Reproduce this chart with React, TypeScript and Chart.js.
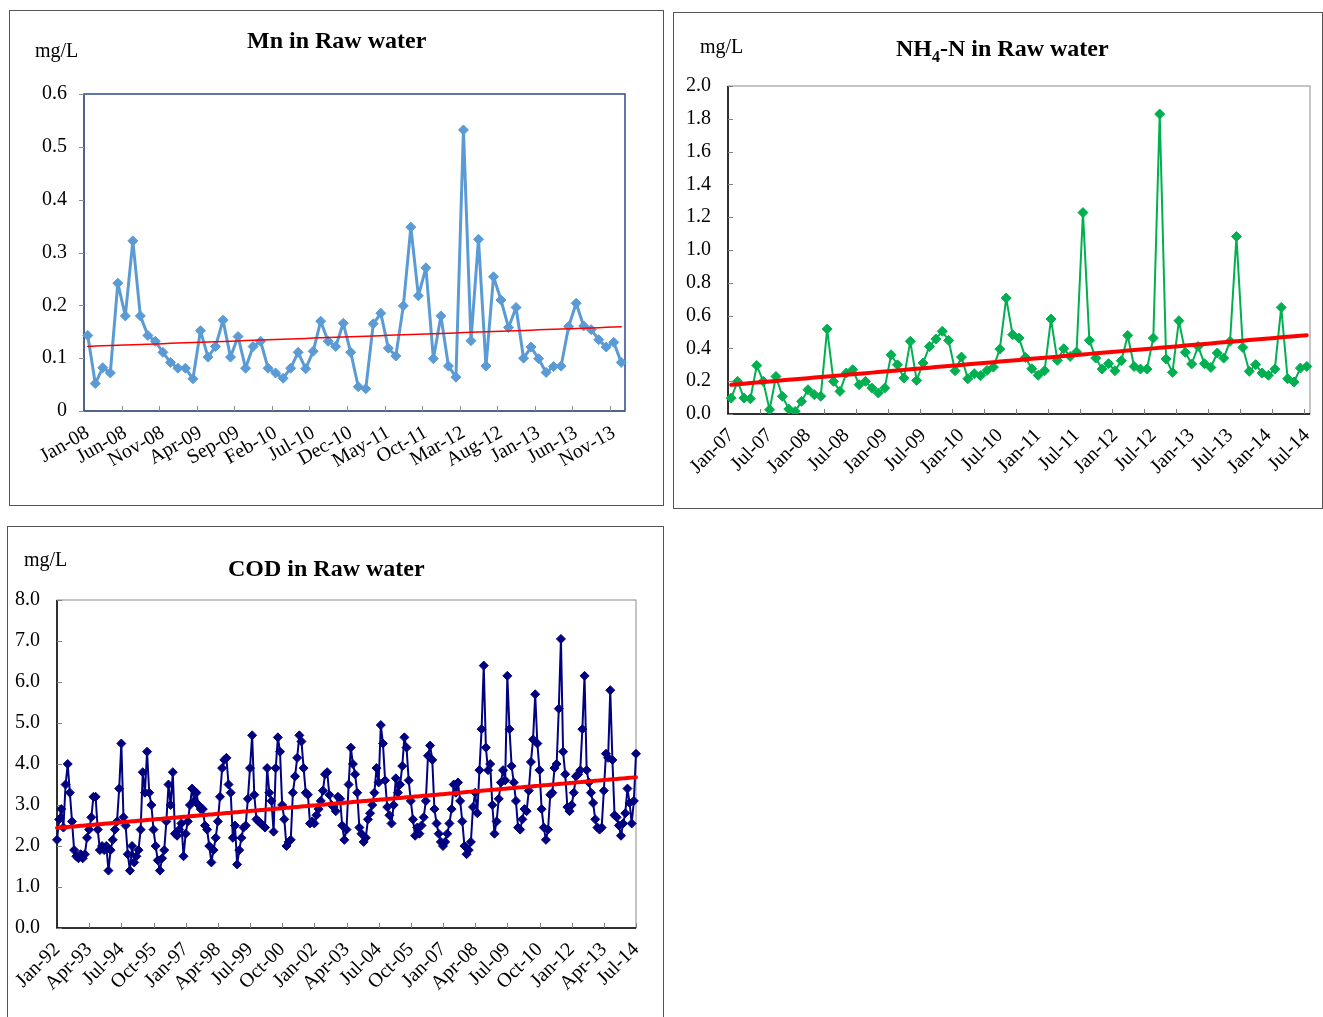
import React, { useEffect, useRef } from 'react';
import { Chart, registerables } from 'chart.js';

Chart.register(...registerables);

const FONT = '"Liberation Serif", "Times New Roman", serif';
const MONTHS = ['Jan', 'Feb', 'Mar', 'Apr', 'May', 'Jun', 'Jul', 'Aug', 'Sep', 'Oct', 'Nov', 'Dec'];

// ---------- Mn in Raw water (monthly, Jan-08 .. Dec-13) ----------
const mnStart = { year: 2008, month: 0 };
const mnTickLabels = ['Jan-08', 'Jun-08', 'Nov-08', 'Apr-09', 'Sep-09', 'Feb-10', 'Jul-10', 'Dec-10', 'May-11', 'Oct-11', 'Mar-12', 'Aug-12', 'Jan-13', 'Jun-13', 'Nov-13'];
const mnValues = [
  0.143, 0.052, 0.082, 0.072, 0.242, 0.180, 0.322, 0.180, 0.143, 0.132,
  0.111, 0.092, 0.081, 0.081, 0.061, 0.152, 0.102, 0.122, 0.172, 0.102,
  0.141, 0.081, 0.122, 0.132, 0.081, 0.072, 0.062, 0.081, 0.111, 0.080,
  0.113, 0.170, 0.132, 0.122, 0.166, 0.111, 0.046, 0.042, 0.165, 0.185,
  0.119, 0.104, 0.199, 0.348, 0.218, 0.271, 0.099, 0.180, 0.085, 0.064,
  0.532, 0.133, 0.325, 0.085, 0.254, 0.210, 0.158, 0.196, 0.100, 0.121,
  0.099, 0.073, 0.084, 0.085, 0.160, 0.204, 0.161, 0.154, 0.135, 0.121,
  0.130, 0.092,
];

// ---------- NH4-N in Raw water (monthly, Jan-07 .. Jul-14) ----------
const nh4Start = { year: 2007, month: 0 };
const nh4TickLabels = ['Jan-07', 'Jul-07', 'Jan-08', 'Jul-08', 'Jan-09', 'Jul-09', 'Jan-10', 'Jul-10', 'Jan-11', 'Jul-11', 'Jan-12', 'Jul-12', 'Jan-13', 'Jul-13', 'Jan-14', 'Jul-14'];
const nh4Values = [
  0.097, 0.199, 0.097, 0.093, 0.296, 0.199, 0.026, 0.229, 0.108, 0.030,
  0.016, 0.077, 0.148, 0.118, 0.108, 0.518, 0.199, 0.138, 0.250, 0.270,
  0.179, 0.199, 0.158, 0.128, 0.158, 0.361, 0.300, 0.219, 0.443, 0.205,
  0.311, 0.412, 0.457, 0.504, 0.449, 0.264, 0.347, 0.215, 0.246, 0.234,
  0.266, 0.286, 0.396, 0.707, 0.483, 0.463, 0.345, 0.276, 0.236, 0.264,
  0.579, 0.327, 0.398, 0.351, 0.378, 1.228, 0.449, 0.341, 0.274, 0.307,
  0.264, 0.325, 0.479, 0.290, 0.274, 0.274, 0.463, 1.829, 0.335, 0.254,
  0.569, 0.376, 0.305, 0.412, 0.307, 0.284, 0.372, 0.341, 0.443, 1.082,
  0.406, 0.260, 0.301, 0.250, 0.236, 0.274, 0.650, 0.215, 0.195, 0.280,
  0.290,
];

// ---------- COD in Raw water (monthly, Jan-92 .. Jul-14) ----------
const codStart = { year: 1992, month: 0 };
const codTickLabels = ['Jan-92', 'Apr-93', 'Jul-94', 'Oct-95', 'Jan-97', 'Apr-98', 'Jul-99', 'Oct-00', 'Jan-02', 'Apr-03', 'Jul-04', 'Oct-05', 'Jan-07', 'Apr-08', 'Jul-09', 'Oct-10', 'Jan-12', 'Apr-13', 'Jul-14'];
const codValues = [
  2.15, 2.65, 2.9, 2.45, 3.5, 4.0, 3.3, 2.6, 1.9, 1.75, 1.7, 1.8,
  1.7, 1.8, 2.2, 2.4, 2.7, 3.2, 3.2, 2.4, 1.9, 2.0, 1.9, 2.0,
  1.4, 1.9, 2.15, 2.4, 2.6, 3.4, 4.5, 2.7, 2.5, 1.8, 1.4, 2.0,
  1.6, 1.75, 1.9, 2.4, 3.8, 3.3, 4.3, 3.3, 3.0, 2.4, 2.0, 1.65,
  1.4, 1.7, 1.9, 2.6, 3.5, 3.0, 3.8, 2.3, 2.25, 2.4, 2.55, 1.75,
  2.3, 2.6, 3.0, 3.4, 3.1, 3.3, 3.0, 2.9, 2.9, 2.5, 2.4, 2.0,
  1.6, 1.9, 2.2, 2.6, 3.2, 3.9, 4.1, 4.15, 3.5, 3.3, 2.2, 2.5,
  1.55, 1.9, 2.2, 2.45, 2.5, 3.15, 3.9, 4.7, 3.25, 2.65, 2.6, 2.55,
  2.5, 2.45, 3.9, 3.3, 3.1, 2.35, 3.9, 4.65, 4.3, 3.0, 2.65, 2.0,
  2.1, 2.15, 3.3, 3.7, 4.15, 4.7, 4.55, 3.9, 3.3, 3.25, 2.55, 2.6,
  2.55, 2.75, 2.9, 3.1, 3.35, 3.75, 3.8, 3.25, 3.0, 2.95, 2.85, 3.2,
  3.15, 2.5, 2.15, 2.4, 3.5, 4.4, 4.0, 3.75, 3.3, 2.45, 2.3, 2.1,
  2.2, 2.65, 2.8, 3.0, 3.3, 3.9, 3.55, 4.95, 4.5, 3.6, 2.95, 2.75,
  2.55, 3.0, 3.65, 3.3, 3.5, 3.95, 4.65, 4.4, 3.6, 3.1, 2.65, 2.25,
  2.45, 2.3, 2.5, 2.7, 3.1, 4.2, 4.45, 4.1, 2.9, 2.55, 2.3, 2.1,
  2.0, 2.1, 2.3, 2.55, 2.9, 3.5, 3.3, 3.55, 3.1, 2.6, 2.0, 1.8,
  1.9, 2.1, 2.95, 3.3, 2.8, 3.85, 4.85, 6.4, 4.4, 3.85, 4.0, 3.0,
  2.3, 2.6, 3.15, 3.55, 3.85, 3.6, 6.15, 4.85, 3.95, 3.55, 3.1, 2.45,
  2.4, 2.65, 2.9, 2.85, 3.35, 4.05, 4.6, 5.7, 4.5, 3.85, 2.9, 2.45,
  2.15, 2.4, 3.25, 3.3, 3.9, 4.0, 5.35, 7.05, 4.3, 3.75, 2.95, 2.85,
  3.0, 3.3, 3.7, 3.75, 3.85, 4.85, 6.15, 3.85, 3.55, 3.3, 3.05, 2.65,
  2.45, 2.4, 2.45, 3.35, 4.25, 4.15, 5.8, 4.1, 2.75, 2.7, 2.5, 2.25,
  2.55, 2.8, 3.4, 3.05, 2.55, 3.1, 4.25,
];

function monthLabels(start: { year: number; month: number }, count: number): string[] {
  const out: string[] = [];
  for (let i = 0; i < count; i++) {
    const m = start.month + i;
    const y = start.year + Math.floor(m / 12);
    out.push(`${MONTHS[m % 12]}-${String(y % 100).padStart(2, '0')}`);
  }
  return out;
}

function linearTrend(vals: number[]): number[] {
  const n = vals.length;
  let sx = 0, sy = 0, sxx = 0, sxy = 0;
  vals.forEach((v, i) => { sx += i; sy += v; sxx += i * i; sxy += i * v; });
  const b = (n * sxy - sx * sy) / (n * sxx - sx * sx);
  const a = (sy - b * sx) / n;
  return vals.map((_, i) => a + b * i);
}

const axisDecor = {
  id: 'axisDecor',
  beforeDatasetsDraw(chart: any, _args: any, opts: any) {
    const { ctx, chartArea: a, scales } = chart;
    const xs = scales.x, ys = scales.y;
    ctx.save();
    ctx.strokeStyle = opts.frameColor;
    ctx.lineWidth = opts.frameWidth;
    ctx.strokeRect(a.left, a.top, a.right - a.left, a.bottom - a.top);
    ctx.strokeStyle = opts.axisColor;
    ctx.lineWidth = opts.axisWidth;
    ctx.beginPath();
    ctx.moveTo(a.left, a.top);
    ctx.lineTo(a.left, a.bottom);
    ctx.lineTo(a.right, a.bottom);
    ctx.stroke();
    ctx.strokeStyle = opts.tickColor;
    ctx.lineWidth = 1;
    ctx.beginPath();
    const len = opts.tickLen;
    for (const t of ys.ticks) {
      const py = Math.round(ys.getPixelForValue(t.value)) + 0.5;
      ctx.moveTo(a.left, py);
      ctx.lineTo(a.left + (opts.yInside ? len : -len), py);
    }
    const n = xs.getLabels().length;
    const step = opts.xTickEvery;
    for (let j = step; j < n; j += step) {
      let px: number;
      if (opts.between) px = a.left + (j * (a.right - a.left)) / n;
      else px = xs.getPixelForValue(j);
      px = Math.round(px) + 0.5;
      ctx.moveTo(px, a.bottom);
      ctx.lineTo(px, a.bottom + (opts.xInside ? -len : len));
    }
    ctx.stroke();
    ctx.restore();
  },
};

type Spec = {
  left: number; top: number; w: number; h: number;
  plot: { left: number; right: number; top: number; bottom: number };
  start: { year: number; month: number };
  values: number[];
  tickLabels: string[];
  labelEvery: number;
  tickEvery: number;
  between: boolean;
  rotation: number;
  color: string;
  lineWidth: number;
  pointRadius: number;
  trendWidth: number;
  yMin: number; yMax: number; yStep: number;
  yFmt: (v: number) => string;
  frameColor: string; axisColor: string; tickColor: string;
  frameWidth: number; axisWidth: number;
  yInside: boolean; xInside: boolean;
  xPad: number;
};

function Panel({ s }: { s: Spec }) {
  const ref = useRef<HTMLCanvasElement>(null);
  useEffect(() => {
    if (!ref.current) return;
    const labels = monthLabels(s.start, s.values.length);
    const trend = linearTrend(s.values);
    const chart = new Chart(ref.current, {
      type: 'line',
      data: {
        labels,
        datasets: [
          {
            data: trend, borderColor: '#FF0000', borderWidth: s.trendWidth,
            pointRadius: 0, order: 0, tension: 0, borderCapStyle: 'round',
          },
          {
            data: s.values, borderColor: s.color, backgroundColor: s.color,
            borderWidth: s.lineWidth, borderJoinStyle: 'round', borderCapStyle: 'round',
            pointStyle: 'rectRot', pointRadius: s.pointRadius,
            pointBorderWidth: 1, pointBackgroundColor: s.color, pointBorderColor: s.color,
            order: 1, tension: 0,
          },
        ],
      } as any,
      options: {
        animation: false,
        responsive: false,
        devicePixelRatio: 1,
        layout: { padding: { left: 0, top: s.plot.top, right: s.w - s.plot.right, bottom: 0 } },
        plugins: {
          legend: { display: false },
          tooltip: { enabled: false },
          axisDecor: {
            frameColor: s.frameColor, axisColor: s.axisColor, tickColor: s.tickColor,
            frameWidth: s.frameWidth, axisWidth: s.axisWidth, tickLen: 5,
            yInside: s.yInside, xInside: s.xInside, xTickEvery: s.tickEvery, between: s.between,
          },
        } as any,
        scales: {
          x: {
            type: 'category',
            offset: s.between,
            grid: { display: false, drawTicks: false },
            border: { display: false },
            ticks: {
              autoSkip: false,
              minRotation: s.rotation,
              maxRotation: s.rotation,
              padding: s.xPad,
              color: '#000',
              font: { family: FONT, size: 20 },
              callback: (_v: any, i: number) => (i % s.labelEvery === 0 ? s.tickLabels[i / s.labelEvery] ?? '' : ''),
            },
            afterFit: (sc: any) => {
              sc.height = s.h - s.plot.bottom;
              sc.paddingLeft = 0; sc.paddingRight = 0;
            },
          },
          y: {
            min: s.yMin,
            max: s.yMax,
            grid: { display: false, drawTicks: false },
            border: { display: false },
            ticks: {
              stepSize: s.yStep,
              padding: 17,
              color: '#000',
              font: { family: FONT, size: 20 },
              callback: (v: any) => s.yFmt(Number(v)),
            },
            afterFit: (sc: any) => {
              sc.width = s.plot.left;
              sc.paddingTop = 0; sc.paddingBottom = 0;
            },
          },
        } as any,
      },
      plugins: [axisDecor as any],
    });
    return () => chart.destroy();
  }, [s]);
  return (
    <canvas
      ref={ref}
      width={s.w}
      height={s.h}
      style={{ position: 'absolute', left: s.left, top: s.top, width: s.w, height: s.h, display: 'block' }}
    />
  );
}

const mnSpec: Spec = {
  left: 10, top: 11, w: 652, h: 493,
  plot: { left: 74, right: 615, top: 83, bottom: 400 },
  start: mnStart, values: mnValues, tickLabels: mnTickLabels,
  labelEvery: 5, tickEvery: 5, between: true, rotation: 30,
  color: '#5B9BD5', lineWidth: 3, pointRadius: 5, trendWidth: 1.5,
  yMin: 0, yMax: 0.6, yStep: 0.1, yFmt: (v) => (v === 0 ? '0' : v.toFixed(1)),
  frameColor: '#2E4A8B', axisColor: '#4F5F80', tickColor: '#8C8C8C',
  frameWidth: 1.5, axisWidth: 1.5, yInside: false, xInside: true, xPad: 10,
};

const nh4Spec: Spec = {
  left: 674, top: 13, w: 648, h: 495,
  plot: { left: 54, right: 636, top: 73, bottom: 401 },
  start: nh4Start, values: nh4Values, tickLabels: nh4TickLabels,
  labelEvery: 6, tickEvery: 5, between: true, rotation: 45,
  color: '#00B050', lineWidth: 2, pointRadius: 5, trendWidth: 4,
  yMin: 0, yMax: 2.0, yStep: 0.2, yFmt: (v) => v.toFixed(1),
  frameColor: '#8C8C8C', axisColor: '#000000', tickColor: '#808080',
  frameWidth: 1, axisWidth: 1.5, yInside: true, xInside: true, xPad: 10,
};

const codSpec: Spec = {
  left: 8, top: 527, w: 655, h: 490,
  plot: { left: 49, right: 628, top: 73, bottom: 401 },
  start: codStart, values: codValues, tickLabels: codTickLabels,
  labelEvery: 15, tickEvery: 15, between: false, rotation: 45,
  color: '#000080', lineWidth: 2, pointRadius: 4.5, trendWidth: 4,
  yMin: 0, yMax: 8.0, yStep: 1.0, yFmt: (v) => v.toFixed(1),
  frameColor: '#8C8C8C', axisColor: '#000000', tickColor: '#808080',
  frameWidth: 1, axisWidth: 1.5, yInside: true, xInside: true, xPad: 10,
};

const textBase: React.CSSProperties = {
  position: 'absolute',
  fontFamily: FONT,
  color: '#000',
  whiteSpace: 'nowrap',
};

export default function App() {
  return (
    <div style={{ position: 'absolute', left: 0, top: 0, width: 1323, height: 1017, background: '#fff', overflow: 'hidden' }}>
      <div style={{ position: 'absolute', left: 9, top: 10, width: 653, height: 494, border: '1px solid #555' }} />
      <div style={{ position: 'absolute', left: 673, top: 12, width: 648, height: 495, border: '1px solid #555' }} />
      <div style={{ position: 'absolute', left: 7, top: 526, width: 655, height: 500, border: '1px solid #555' }} />

      <Panel s={mnSpec} />
      <Panel s={nh4Spec} />
      <Panel s={codSpec} />

      <div style={{ ...textBase, left: 247, top: 28, fontSize: 24, lineHeight: '24px', fontWeight: 'bold' }}>Mn in Raw water</div>
      <div style={{ ...textBase, left: 35, top: 40, fontSize: 20, lineHeight: '20px' }}>mg/L</div>

      <div style={{ ...textBase, left: 896, top: 36, fontSize: 24, lineHeight: '24px', fontWeight: 'bold' }}>
        NH<span style={{ fontSize: 16, position: 'relative', top: 6 }}>4</span>-N in Raw water
      </div>
      <div style={{ ...textBase, left: 700, top: 36, fontSize: 20, lineHeight: '20px' }}>mg/L</div>

      <div style={{ ...textBase, left: 228, top: 556, fontSize: 24, lineHeight: '24px', fontWeight: 'bold' }}>COD in Raw water</div>
      <div style={{ ...textBase, left: 24, top: 549, fontSize: 20, lineHeight: '20px' }}>mg/L</div>
    </div>
  );
}
